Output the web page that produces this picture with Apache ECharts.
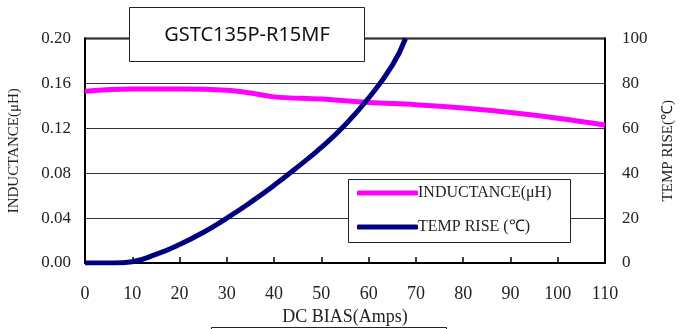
<!DOCTYPE html>
<html><head><meta charset="utf-8">
<script src="https://cdn.jsdelivr.net/npm/echarts@6/dist/echarts.min.js"></script>
<style>html,body{margin:0;padding:0;background:#fff}#c{width:680px;height:329px}</style>
</head><body><div id="c"></div>
<script>
const titleText = 'GSTC135P-R15MF';
const xAxisName = 'DC BIAS(Amps)';
const leftAxisName = 'INDUCTANCE(μH)';
const rightAxisName = 'TEMP RISE(℃)';
const seriesNames = ['INDUCTANCE(μH)', 'TEMP RISE (℃)'];
const inductanceX = [0, 10, 20, 30, 35, 40, 50, 60, 70, 80, 90, 100, 110];
const inductanceY = [0.153, 0.155, 0.155, 0.154, 0.1515, 0.148, 0.146, 0.143, 0.141, 0.138, 0.134, 0.129, 0.123];
const tempX = [0, 6, 10, 15, 20, 25, 30, 35, 40, 45, 50, 55, 60, 65, 67.8];
const tempY = [0, 0, 0.6, 3.8, 8.2, 13.6, 20, 27, 34.6, 42.8, 51.5, 61.5, 73.5, 88, 100];

const serif = '"Liberation Serif","Times New Roman",serif';
const txt = '#222';
const chart = echarts.init(document.getElementById('c'));
chart.setOption({
  animation: false,
  grid: {left: 85, right: 75, top: 38.5, bottom: 66, containLabel: false, outerBoundsMode: 'none', show: true, borderColor: '#000', borderWidth: 2, backgroundColor: 'transparent'},
  xAxis: {
    type: 'value', min: 0, max: 110, interval: 10,
    name: xAxisName, nameLocation: 'middle', nameGap: 40,
    nameTextStyle: {fontFamily: serif, fontSize: 18, color: txt},
    axisLine: {lineStyle: {color: '#000', width: 2}},
    axisTick: {inside: true, length: 6, lineStyle: {color: '#000', width: 1.5}},
    axisLabel: {fontFamily: serif, fontSize: 18, color: txt, margin: 22},
    splitLine: {show: false}
  },
  yAxis: [{
    type: 'value', min: 0, max: 0.2, interval: 0.04,
    name: leftAxisName, nameLocation: 'middle', nameGap: 63,
    nameTextStyle: {fontFamily: serif, fontSize: 15, color: txt},
    axisLine: {show: true, lineStyle: {color: '#000', width: 2}},
    axisTick: {show: false},
    axisLabel: {fontFamily: serif, fontSize: 17, color: txt, margin: 14, formatter: v => v.toFixed(2)},
    splitLine: {lineStyle: {color: '#333', width: 1}}
  }, {
    type: 'value', min: 0, max: 100, interval: 20,
    name: rightAxisName, nameLocation: 'middle', nameGap: 56,
    nameTextStyle: {fontFamily: serif, fontSize: 15, color: txt},
    axisLine: {show: true, lineStyle: {color: '#000', width: 2}},
    axisTick: {show: false},
    axisLabel: {fontFamily: serif, fontSize: 17, color: txt, margin: 17},
    splitLine: {show: false}
  }],
  legend: {
    orient: 'vertical', left: 352, top: 180, itemGap: 18, z: 20,
    icon: 'roundRect', itemWidth: 61, itemHeight: 5,
    textStyle: {fontFamily: serif, fontSize: 16, color: txt, padding: [0, 0, 0, -5]},
    data: seriesNames
  },
  graphic: [
    {type: 'rect', z: 15, shape: {x: 348.5, y: 179.5, width: 222, height: 63}, style: {fill: '#fff', stroke: '#222', lineWidth: 1}},
    {type: 'rect', z: 15, shape: {x: 129.5, y: 7.5, width: 235, height: 54}, style: {fill: '#fff', stroke: '#222', lineWidth: 1}},
    {type: 'text', z: 16, x: 247, y: 35, style: {text: titleText, font: '20px "Noto Sans", sans-serif', fill: '#111', textAlign: 'center', textVerticalAlign: 'middle'}},
    {type: 'rect', z: 15, shape: {x: 211.5, y: 327.5, width: 235, height: 20}, style: {fill: '#fff', stroke: '#222', lineWidth: 1}}
  ],
  series: [{
    name: seriesNames[0], type: 'line', yAxisIndex: 0, smooth: 0.4, showSymbol: false,
    lineStyle: {color: '#ff00ff', width: 5}, itemStyle: {color: '#ff00ff'},
    data: inductanceX.map((x, i) => [x, inductanceY[i]])
  }, {
    name: seriesNames[1], type: 'line', yAxisIndex: 1, smooth: 0.5, showSymbol: false,
    lineStyle: {color: '#000080', width: 5}, itemStyle: {color: '#000080'},
    data: tempX.map((x, i) => [x, tempY[i]])
  }]
});
</script></body></html>
